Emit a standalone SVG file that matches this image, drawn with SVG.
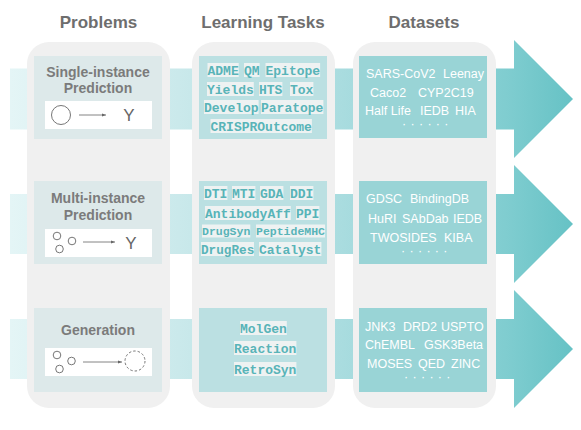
<svg xmlns="http://www.w3.org/2000/svg" width="581" height="430" viewBox="0 0 581 430">
<style>
.hdr{font-family:"Liberation Sans",Arial,sans-serif;font-weight:bold;font-size:17px;fill:#6e6e6e;text-anchor:middle}
.lbl{font-family:"Liberation Sans",Arial,sans-serif;font-weight:bold;font-size:14px;fill:#7b7b7b;text-anchor:middle}
.col{fill:#f0f0f0}
.p{fill:#dde9ea}
.t{fill:#bbe0e2}
.d{fill:#99d4d6}
.wb{fill:#ffffff}
.task{font-family:"Liberation Mono","Courier New",monospace;font-weight:bold;font-size:13px;fill:#58b4b8}
.sm{font-size:11.5px}
.hl{fill:#eef2f2}
.ds{font-family:"Liberation Sans",Arial,sans-serif;font-size:12.5px;fill:#ffffff}
.y{font-family:"Liberation Sans",Arial,sans-serif;font-size:17px;fill:#666;text-anchor:middle}
.ic{fill:none;stroke:#666;stroke-width:0.9}
.ln{stroke:#666;stroke-width:0.8;fill:none}
</style>
<defs>
<linearGradient id="band" gradientUnits="userSpaceOnUse" x1="10" y1="0" x2="573" y2="0">
<stop offset="0" stop-color="#e4f5f6"/>
<stop offset="0.3" stop-color="#cae9eb"/>
<stop offset="0.59" stop-color="#a9dcdf"/>
<stop offset="0.88" stop-color="#80cdd0"/>
<stop offset="1" stop-color="#66c2c5"/>
</linearGradient>
<marker id="ah" viewBox="0 0 6 6" refX="6" refY="3" markerWidth="4" markerHeight="4" orient="auto" markerUnits="userSpaceOnUse">
<path d="M0,0.8 L6,3 L0,5.2 z" fill="#666"/>
</marker>
</defs>

<g id="connectors">
<path d="M10,68.5 H514 V40 L573,99 L514,158 V129.5 H10 Z" fill="url(#band)"/>
<path d="M10,194 H514 V165 L573,224 L514,283 V254 H10 Z" fill="url(#band)"/>
<path d="M10,319 H514 V290 L573,349 L514,408 V379 H10 Z" fill="url(#band)"/>
</g>

<g id="headers">
<text class="hdr" x="98.5" y="28">Problems</text>
<text class="hdr" x="263" y="28">Learning Tasks</text>
<text class="hdr" x="424" y="28">Datasets</text>
</g>

<g id="columns">
<rect class="col" x="27" y="42" width="143" height="366" rx="22"/>
<rect class="col" x="192" y="42" width="143" height="366" rx="22"/>
<rect class="col" x="353" y="42" width="143" height="366" rx="22"/>
</g>

<g id="problem-single">
<rect class="p" x="34" y="56" width="128" height="83"/>
<text class="lbl" x="98" y="77">Single-instance</text>
<text class="lbl" x="98" y="93">Prediction</text>
<rect class="wb" x="45" y="101" width="107" height="28"/>
<circle class="ic" cx="61" cy="115" r="9.5"/>
<line class="ln" x1="79" y1="115" x2="106" y2="115" marker-end="url(#ah)"/>
<text class="y" x="129" y="121">Y</text>
</g>

<g id="problem-multi">
<rect class="p" x="34" y="181" width="128" height="83"/>
<text class="lbl" x="98" y="203">Multi-instance</text>
<text class="lbl" x="98" y="220">Prediction</text>
<rect class="wb" x="45" y="229" width="107" height="28"/>
<circle class="ic" cx="57" cy="236" r="3.8"/>
<circle class="ic" cx="72" cy="241" r="3.8"/>
<circle class="ic" cx="59.5" cy="249" r="3.8"/>
<line class="ln" x1="83" y1="242" x2="115" y2="242" marker-end="url(#ah)"/>
<text class="y" x="131" y="249">Y</text>
</g>

<g id="problem-generation">
<rect class="p" x="34" y="308" width="128" height="84"/>
<text class="lbl" x="98" y="335">Generation</text>
<rect class="wb" x="45" y="348" width="107" height="28"/>
<circle class="ic" cx="57" cy="355" r="3.8"/>
<circle class="ic" cx="71.5" cy="361" r="3.8"/>
<circle class="ic" cx="59.5" cy="369" r="3.8"/>
<line class="ln" x1="83" y1="362" x2="122" y2="362" marker-end="url(#ah)"/>
<circle class="ic" cx="135" cy="361" r="10" stroke-dasharray="2.5,2"/>
</g>

<g id="tasks-single">
<rect class="t" x="199" y="56" width="128" height="83"/>
<rect class="hl" x="207.5" y="63" width="31.2" height="14"/>
<rect class="hl" x="244" y="63" width="15.6" height="14"/>
<rect class="hl" x="265.5" y="63" width="54.6" height="14"/>
<rect class="hl" x="207" y="82" width="46.8" height="14"/>
<rect class="hl" x="259" y="82" width="23.4" height="14"/>
<rect class="hl" x="290" y="82" width="23.4" height="14"/>
<rect class="hl" x="204" y="100" width="54.6" height="14"/>
<rect class="hl" x="261" y="100" width="62.4" height="14"/>
<rect class="hl" x="210.5" y="119" width="101.4" height="14"/>
<text class="task" y="74.5"><tspan x="207.5">ADME</tspan><tspan x="244">QM</tspan><tspan x="265.5">Epitope</tspan></text>
<text class="task" y="93.5"><tspan x="207">Yields</tspan><tspan x="259">HTS</tspan><tspan x="290">Tox</tspan></text>
<text class="task" y="111.5"><tspan x="204">Develop</tspan><tspan x="261">Paratope</tspan></text>
<text class="task" y="130.5"><tspan x="210.5">CRISPROutcome</tspan></text>
</g>

<g id="tasks-multi">
<rect class="t" x="199" y="181" width="128" height="83"/>
<rect class="hl" x="204" y="186" width="23.4" height="14"/>
<rect class="hl" x="232" y="186" width="23.4" height="14"/>
<rect class="hl" x="260" y="186" width="23.4" height="14"/>
<rect class="hl" x="290" y="186" width="23.4" height="14"/>
<rect class="hl" x="205" y="206" width="85.8" height="14"/>
<rect class="hl" x="296" y="206" width="23.4" height="14"/>
<rect class="hl" x="202" y="224.5" width="48.3" height="13"/>
<rect class="hl" x="256" y="224.5" width="69" height="13"/>
<rect class="hl" x="201" y="242" width="53" height="14"/>
<rect class="hl" x="259" y="242" width="62.4" height="14"/>
<text class="task" y="197.5"><tspan x="204">DTI</tspan><tspan x="232">MTI</tspan><tspan x="260">GDA</tspan><tspan x="290">DDI</tspan></text>
<text class="task" y="217.5"><tspan x="205">AntibodyAff</tspan><tspan x="296">PPI</tspan></text>
<text class="task sm" y="235"><tspan x="202">DrugSyn</tspan><tspan x="256">PeptideMHC</tspan></text>
<text class="task" y="253.5" style="font-size:12.7px"><tspan x="201">DrugRes</tspan></text>
<text class="task" y="253.5"><tspan x="259">Catalyst</tspan></text>
</g>

<g id="tasks-generation">
<rect class="t" x="199" y="308" width="128" height="84"/>
<rect class="hl" x="240" y="321" width="46.8" height="14"/>
<rect class="hl" x="234" y="341" width="62.4" height="14"/>
<rect class="hl" x="234" y="362" width="62.4" height="14"/>
<text class="task" y="332.5"><tspan x="240">MolGen</tspan></text>
<text class="task" y="352.5"><tspan x="234">Reaction</tspan></text>
<text class="task" y="373.5"><tspan x="234">RetroSyn</tspan></text>
</g>

<g id="datasets-single">
<rect class="d" x="359" y="56" width="128" height="82"/>
<text class="ds" y="77.5"><tspan x="366">SARS-CoV2</tspan><tspan x="443">Leenay</tspan></text>
<text class="ds" y="96.5"><tspan x="370">Caco2</tspan><tspan x="418">CYP2C19</tspan></text>
<text class="ds" y="114.5"><tspan x="365">Half Life</tspan><tspan x="420">IEDB</tspan><tspan x="455">HIA</tspan></text>
<text class="ds" y="128" letter-spacing="4.3"><tspan x="402">······</tspan></text>
</g>

<g id="datasets-multi">
<rect class="d" x="359" y="181" width="128" height="83"/>
<text class="ds" y="202.5"><tspan x="366">GDSC</tspan><tspan x="410">BindingDB</tspan></text>
<text class="ds" y="222.5"><tspan x="368">HuRI</tspan><tspan x="402">SAbDab</tspan><tspan x="453">IEDB</tspan></text>
<text class="ds" y="241.5"><tspan x="370">TWOSIDES</tspan><tspan x="444">KIBA</tspan></text>
<text class="ds" y="255" letter-spacing="4.3"><tspan x="401">······</tspan></text>
</g>

<g id="datasets-generation">
<rect class="d" x="359" y="308" width="128" height="84"/>
<text class="ds" y="330.5"><tspan x="365">JNK3</tspan><tspan x="403">DRD2</tspan><tspan x="441">USPTO</tspan></text>
<text class="ds" y="348.5"><tspan x="365">ChEMBL</tspan><tspan x="424">GSK3Beta</tspan></text>
<text class="ds" y="367.5"><tspan x="367">MOSES</tspan><tspan x="418">QED</tspan><tspan x="451">ZINC</tspan></text>
<text class="ds" y="381" letter-spacing="4.3"><tspan x="404">······</tspan></text>
</g>
</svg>
